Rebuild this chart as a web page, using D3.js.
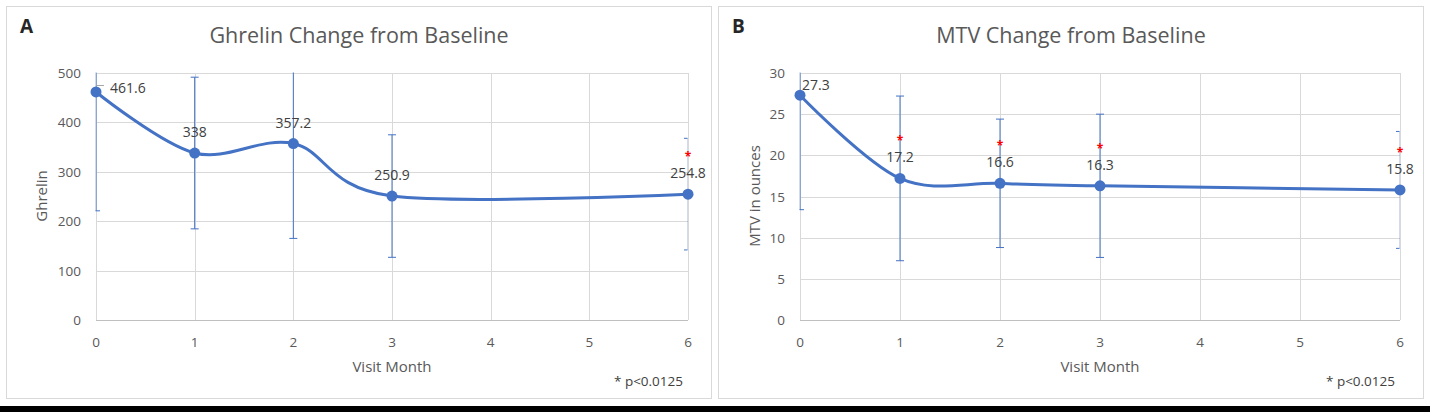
<!DOCTYPE html>
<html lang="en">
<head>
  <meta charset="UTF-8">
  <title>Ghrelin and MTV Change from Baseline</title>
  <script src="https://d3js.org/d3.v7.min.js"></script>
  <style>
    body { margin: 0; background: #fff; }
    svg { display: block; }
    text { font-family: "Open Sans", sans-serif; }
  </style>
</head>
<body>
  <div id="chart"></div>

  <script>
    // Visit months and tick values
    const months = [0, 1, 2, 3, 6];
    const monthTicks = [0, 1, 2, 3, 4, 5, 6];
    const ghrelinTicks = [0, 100, 200, 300, 400, 500];
    const mtvTicks = [0, 5, 10, 15, 20, 25, 30];

    // Panel A: ghrelin means, error half-widths, significance flags
    const ghrelinMean = [461.6, 338, 357.2, 250.9, 254.8];
    const ghrelinErr = [240.6, 153.5, 192, 124, 113];
    const ghrelinSig = [false, false, false, false, true];

    // Panel B: MTV means, error half-widths, significance flags
    const mtvMean = [27.3, 17.2, 16.6, 16.3, 15.8];
    const mtvErr = [13.9, 10.0, 7.8, 8.7, 7.1];
    const mtvSig = [false, true, true, true, true];

    const width = 1430;
    const height = 412;

    const svg = d3.select("#chart").append("svg")
        .attr("width", width)
        .attr("height", height);

    // black strip along the bottom edge
    svg.append("rect")
        .attr("x", 0).attr("y", 406)
        .attr("width", width).attr("height", height - 406)
        .attr("fill", "#000");

    function drawPanel(cfg) {
      const g = svg.append("g");

      // panel frame
      g.append("rect")
          .attr("x", cfg.frame[0] + 0.5).attr("y", 6.5)
          .attr("width", cfg.frame[1] - cfg.frame[0]).attr("height", 392)
          .attr("fill", "#fff")
          .attr("stroke", "#d9d9d9");

      const x = d3.scaleLinear().domain([0, 6]).range([cfg.left, cfg.right]);
      const y = d3.scaleLinear().domain([0, cfg.yTicks[cfg.yTicks.length - 1]]).range([320, 73]);

      // gridlines
      g.append("g").selectAll("line").data(cfg.yTicks.slice(1)).join("line")
          .attr("x1", cfg.left).attr("x2", cfg.right)
          .attr("y1", d => Math.round(y(d)) + 0.5).attr("y2", d => Math.round(y(d)) + 0.5)
          .attr("stroke", "#d9d9d9");
      g.append("g").selectAll("line").data(monthTicks).join("line")
          .attr("x1", d => Math.round(x(d)) + 0.5).attr("x2", d => Math.round(x(d)) + 0.5)
          .attr("y1", 73).attr("y2", 320)
          .attr("stroke", "#d9d9d9");
      g.append("line")
          .attr("x1", cfg.left).attr("x2", cfg.right)
          .attr("y1", 320.5).attr("y2", 320.5)
          .attr("stroke", "#bfbfbf");

      // y tick labels
      g.append("g").selectAll("text").data(cfg.yTicks).join("text")
          .attr("x", cfg.left - 15)
          .attr("y", d => y(d) + 5)
          .attr("text-anchor", "end")
          .attr("font-size", 13.5)
          .attr("fill", "#595959")
          .text(d => d);

      // x tick labels
      g.append("g").selectAll("text").data(monthTicks).join("text")
          .attr("x", d => x(d))
          .attr("y", 347)
          .attr("text-anchor", "middle")
          .attr("font-size", 13.5)
          .attr("fill", "#595959")
          .text(d => d);

      // titles
      g.append("text")
          .attr("x", (cfg.frame[0] + cfg.frame[1]) / 2 + 0.5)
          .attr("y", 43)
          .attr("text-anchor", "middle")
          .attr("font-size", 21.5)
          .attr("fill", "#595959")
          .text(cfg.title);

      g.append("text")
          .attr("x", cfg.frame[0] + 14)
          .attr("y", 33)
          .attr("font-family", "Liberation Sans, Arial, sans-serif")
          .attr("font-weight", "bold")
          .attr("font-size", 19)
          .attr("fill", "#262626")
          .text(cfg.letter);

      g.append("text")
          .attr("x", (cfg.left + cfg.right) / 2)
          .attr("y", 372)
          .attr("text-anchor", "middle")
          .attr("font-size", 15)
          .attr("fill", "#595959")
          .text("Visit Month");

      g.append("text")
          .attr("transform", `translate(${cfg.yTitleX},196) rotate(-90)`)
          .attr("text-anchor", "middle")
          .attr("font-size", 15)
          .attr("fill", "#595959")
          .text(cfg.yTitle);

      g.append("text")
          .attr("x", cfg.right - 5)
          .attr("y", 386)
          .attr("text-anchor", "end")
          .attr("font-size", 13.5)
          .attr("fill", "#404040")
          .text("* p<0.0125");

      // error bars, clipped to the plot area
      const clipId = "clip" + cfg.letter;
      g.append("clipPath").attr("id", clipId)
        .append("rect")
          .attr("x", cfg.left - 0.5).attr("y", 72.5)
          .attr("width", cfg.right - cfg.left).attr("height", 248);

      const pts = months.map((m, i) => ({ m, v: cfg.mean[i], e: cfg.err[i], sig: cfg.sig[i], i }));

      const eb = g.append("g")
          .attr("clip-path", `url(#${clipId})`)
          .attr("stroke", "#4472c4")
          .attr("stroke-width", 1);
      eb.selectAll("line.v").data(pts).join("line")
          .attr("class", "v")
          .attr("x1", d => x(d.m)).attr("x2", d => x(d.m))
          .attr("y1", d => y(d.v + d.e)).attr("y2", d => y(d.v - d.e));
      eb.selectAll("line.top").data(pts).join("line")
          .attr("class", "top")
          .attr("x1", d => x(d.m) - 4).attr("x2", d => x(d.m) + 4)
          .attr("y1", d => y(d.v + d.e)).attr("y2", d => y(d.v + d.e));
      eb.selectAll("line.bot").data(pts).join("line")
          .attr("class", "bot")
          .attr("x1", d => x(d.m) - 4).attr("x2", d => x(d.m) + 4)
          .attr("y1", d => y(d.v - d.e)).attr("y2", d => y(d.v - d.e));

      // smoothed line
      const line = d3.line()
          .x(d => x(d.m))
          .y(d => y(d.v))
          .curve(d3.curveCardinal);
      g.append("path")
          .datum(pts)
          .attr("d", line)
          .attr("fill", "none")
          .attr("stroke", "#4472c4")
          .attr("stroke-width", 3);

      g.append("g").selectAll("circle").data(pts).join("circle")
          .attr("cx", d => x(d.m))
          .attr("cy", d => y(d.v))
          .attr("r", 5.5)
          .attr("fill", "#4472c4");

      // data labels (first one sits to the right of its point)
      g.append("g").selectAll("text").data(pts).join("text")
          .attr("x", d => d.i === 0 ? x(d.m) + cfg.firstLabel[0] : x(d.m))
          .attr("y", d => d.i === 0 ? y(d.v) + cfg.firstLabel[1] : y(d.v) - 16)
          .attr("text-anchor", d => d.i === 0 ? "start" : "middle")
          .attr("font-size", 14)
          .attr("fill", "#404040")
          .text(d => d.v);

      if (cfg.leader) {
        g.append("line")
            .attr("x1", x(0) + 1).attr("x2", x(0) + 8)
            .attr("y1", y(pts[0].v) - 6.5).attr("y2", y(pts[0].v) - 6.5)
            .attr("stroke", "#a6a6a6");
      }

      // significance asterisks
      g.append("g").selectAll("text").data(pts.filter(d => d.sig)).join("text")
          .attr("x", d => x(d.m))
          .attr("y", d => y(d.v) - 40 + 7)
          .attr("text-anchor", "middle")
          .attr("font-family", "Liberation Sans, Arial, sans-serif")
          .attr("font-weight", "bold")
          .attr("font-size", 12)
          .attr("fill", "#ff0000")
          .text("*");
    }

    drawPanel({
      letter: "A",
      title: "Ghrelin Change from Baseline",
      yTitle: "Ghrelin",
      frame: [6, 711],
      left: 96, right: 688,
      yTicks: ghrelinTicks,
      yTitleX: 47,
      mean: ghrelinMean, err: ghrelinErr, sig: ghrelinSig,
      firstLabel: [14, 1],
      leader: true
    });

    drawPanel({
      letter: "B",
      title: "MTV Change from Baseline",
      yTitle: "MTV in ounces",
      frame: [718, 1423],
      left: 800, right: 1400,
      yTicks: mtvTicks,
      yTitleX: 760,
      mean: mtvMean, err: mtvErr, sig: mtvSig,
      firstLabel: [2, -5],
      leader: false
    });
  </script>
</body>
</html>
